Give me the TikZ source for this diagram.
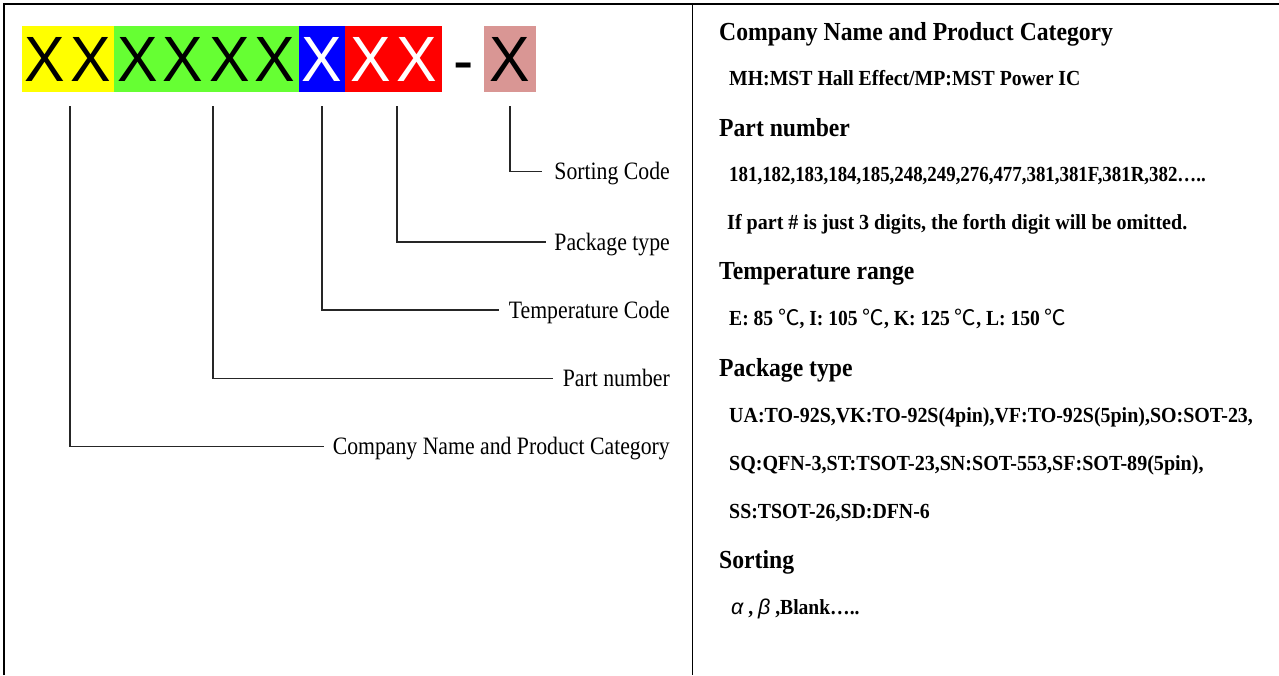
\documentclass[tikz,border=0pt]{standalone}
\usepackage{graphicx}
\usepackage{fontspec}
\setmainfont{Liberation Serif}
\newfontfamily\xsans[FakeStretch=0.95]{Liberation Sans}
\newfontfamily\lblfont[FakeStretch=0.87]{Liberation Serif}
\newfontfamily\rfont[FakeStretch=0.91]{Liberation Serif}
\newfontfamily\cjk{Noto Sans CJK SC}
\newfontfamily\grk{Liberation Sans}
\definecolor{cyel}{HTML}{FFFF00}
\definecolor{cgrn}{HTML}{66FF33}
\definecolor{cblu}{HTML}{0000FF}
\definecolor{cred}{HTML}{FF0000}
\definecolor{cpnk}{HTML}{D99694}
\newcommand\Lx[1]{\makebox[46pt]{#1}}
\newcommand\degc{{\cjk\mdseries ℃}}
\tikzset{
  blk/.style={rectangle, inner sep=0pt, minimum height=66pt, font=\xsans\fontsize{64}{70}\selectfont},
  lbl/.style={anchor=east, inner sep=0pt, text height=16.5pt, text depth=0pt, font=\lblfont\fontsize{25}{28}\selectfont},
  hd/.style={anchor=west, inner sep=0pt, text height=18pt, text depth=0pt, font=\rfont\bfseries\fontsize{26}{30}\selectfont},
  bd/.style={anchor=west, inner sep=0pt, text height=15pt, text depth=0pt, font=\rfont\bfseries\fontsize{21.5}{25}\selectfont},
  conn/.style={line width=1.5pt, black!85},
  frame/.style={line width=1.6pt, black}
}
\begin{document}
\begin{tikzpicture}[x=1pt,y=-1pt]
\useasboundingbox (0,0) rectangle (1279,675);
% frame
\draw[frame] (4,675) -- (4,4) -- (1279,4);
\draw[frame] (692.5,4) -- (692.5,675);
% code blocks
\node[blk, fill=cyel, minimum width=92pt] (cy) at (68,59) {\Lx{X}\Lx{X}};
\node[blk, fill=cgrn, minimum width=184.6pt] (cg) at (206.3,59) {\Lx{X}\Lx{X}\Lx{X}\Lx{X}};
\node[blk, fill=cblu, minimum width=46.4pt, text=white] (cb) at (321.8,59) {\Lx{X}};
\node[blk, fill=cred, minimum width=97pt, text=white] (cr) at (393.5,59) {\Lx{X}\Lx{X}};
\node[inner sep=0pt, anchor=base, font=\xsans\fontsize{64}{70}\selectfont] (dash) at (463.5,82) {-};
\node[blk, fill=cpnk, minimum width=52pt] (cp) at (510,59) {\Lx{X}};
% labels
\node[lbl] (l5) at (670,171.5) {Sorting Code};
\node[lbl] (l4) at (670,242) {Package type};
\node[lbl] (l3) at (670,310) {Temperature Code};
\node[lbl] (l2) at (670,378.5) {Part number};
\node[lbl] (l1) at (670,446.5) {Company Name and Product Category};
% connector tops
\coordinate (t1) at (70,106);
\coordinate (t2) at (213,106);
\coordinate (t3) at (322,106);
\coordinate (t4) at (397,106);
\coordinate (t5) at (510,106);
\draw[conn] (t5) |- ([xshift=-12pt]l5.west);
\draw[conn] (t4) |- ([xshift=-8pt]l4.west);
\draw[conn] (t3) |- ([xshift=-10pt]l3.west);
\draw[conn] (t2) |- ([xshift=-10pt]l2.west);
\draw[conn] (t1) |- ([xshift=-9pt]l1.west);
% right panel
\node[hd] (h1) at (719,31) {Company Name and Product Category};
\node[bd] (b1) at (729,78) {\scalebox{1.01}[1]{MH:MST Hall Effect/MP:MST Power IC}};
\node[hd] (h2) at (719,127) {Part number};
\node[bd] (b2) at (729,174) {\scalebox{0.965}[1]{181,182,183,184,185,248,249,276,477,381,381F,381R,382…..}};
\node[bd] (b3) at (727,222) {\scalebox{1.025}[1]{If part \# is just 3 digits, the forth digit will be omitted.}};
\node[hd] (h3) at (719,270) {Temperature range};
\node[bd] (b4) at (729,318) {E: 85 \degc, I: 105 \degc, K: 125 \degc, L: 150 \degc};
\node[hd] (h4) at (719,367) {Package type};
\node[bd] (b5) at (729,415) {\scalebox{1.02}[1]{UA:TO-92S,VK:TO-92S(4pin),VF:TO-92S(5pin),SO:SOT-23,}};
\node[bd] (b6) at (729,463) {\scalebox{1.025}[1]{SQ:QFN-3,ST:TSOT-23,SN:SOT-553,SF:SOT-89(5pin),}};
\node[bd] (b7) at (729,511) {\scalebox{1.015}[1]{SS:TSOT-26,SD:DFN-6}};
\node[hd] (h5) at (719,559) {Sorting};
\node[bd] (b8) at (731,607) {{\grk\itshape\mdseries α} , {\grk\itshape\mdseries β} ,Blank…..};
\end{tikzpicture}
\end{document}
